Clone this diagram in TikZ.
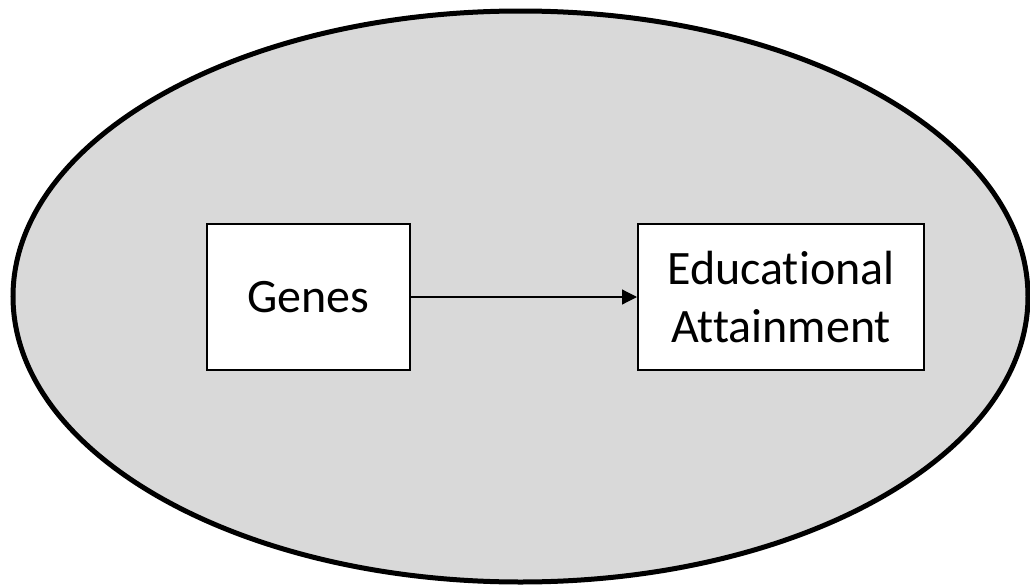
\documentclass[tikz,border=0pt]{standalone}
\usepackage{fontspec}
\setmainfont{Carlito}[Ligatures={NoCommon}]
\usetikzlibrary{arrows.meta, positioning}
\definecolor{lgrey}{RGB}{217,217,217}

\begin{document}
\begin{tikzpicture}[
  x=0.5pt, y=0.5pt,
  varbox/.style={draw, line width=1pt, fill=white, align=center,
                 minimum height=73pt, font=\fontsize{24}{29}\selectfont},
]
\useasboundingbox (0,0) rectangle (1030,586);
\draw[line width=2.5pt, fill=lgrey] (520.5,289.5) ellipse [x radius=507.5, y radius=285.5];
\node[varbox, minimum width=101.5pt] (genes) at (308.5,289) {Genes};
\node[varbox, minimum width=143pt] (edu) at (781,289) {Educational\\Attainment};
\draw[line width=0.6pt, -{Triangle[length=7.5pt, width=7.5pt]}] (genes) -- (edu);
\end{tikzpicture}
\end{document}
